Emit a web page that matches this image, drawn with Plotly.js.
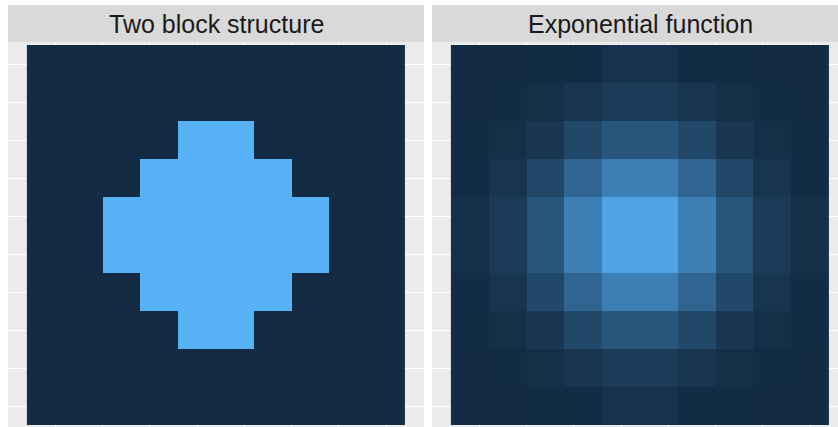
<!DOCTYPE html>
<html>
<head>
<meta charset="utf-8">
<script src="https://cdn.plot.ly/plotly-3.0.1.min.js"></script>
<style>
  html, body { margin: 0; padding: 0; background: #ffffff; }
  #chart { width: 838px; height: 427px; }
</style>
</head>
<body>
<div id="chart"></div>
<script>
// Facet titles
const panelTitles = ["Two block structure", "Exponential function"];

// Grid coordinates (columns and rows of the 10 x 10 matrices)
const cols = [1, 2, 3, 4, 5, 6, 7, 8, 9, 10];
const rows = [1, 2, 3, 4, 5, 6, 7, 8, 9, 10];

// Two block structure: 0/1 membership matrix (row 1 at the top)
const blockValues = [
  [0, 0, 0, 0, 0, 0, 0, 0, 0, 0],
  [0, 0, 0, 0, 0, 0, 0, 0, 0, 0],
  [0, 0, 0, 0, 1, 1, 0, 0, 0, 0],
  [0, 0, 0, 1, 1, 1, 1, 0, 0, 0],
  [0, 0, 1, 1, 1, 1, 1, 1, 0, 0],
  [0, 0, 1, 1, 1, 1, 1, 1, 0, 0],
  [0, 0, 0, 1, 1, 1, 1, 0, 0, 0],
  [0, 0, 0, 0, 1, 1, 0, 0, 0, 0],
  [0, 0, 0, 0, 0, 0, 0, 0, 0, 0],
  [0, 0, 0, 0, 0, 0, 0, 0, 0, 0]
];

// Exponential function: smooth decay away from the centre
const expValues = [
  [0.00, 0.00, 0.01, 0.01, 0.06, 0.06, 0.01, 0.01, 0.00, 0.00],
  [0.00, 0.01, 0.03, 0.08, 0.13, 0.13, 0.08, 0.03, 0.01, 0.00],
  [0.01, 0.03, 0.10, 0.23, 0.34, 0.34, 0.23, 0.10, 0.03, 0.01],
  [0.01, 0.08, 0.23, 0.46, 0.65, 0.65, 0.46, 0.23, 0.08, 0.01],
  [0.04, 0.13, 0.34, 0.65, 0.91, 0.91, 0.65, 0.34, 0.13, 0.04],
  [0.04, 0.13, 0.34, 0.65, 0.91, 0.91, 0.65, 0.34, 0.13, 0.04],
  [0.01, 0.08, 0.23, 0.46, 0.65, 0.65, 0.46, 0.23, 0.08, 0.01],
  [0.01, 0.03, 0.10, 0.23, 0.34, 0.34, 0.23, 0.10, 0.03, 0.01],
  [0.00, 0.01, 0.03, 0.08, 0.13, 0.13, 0.08, 0.03, 0.01, 0.00],
  [0.00, 0.00, 0.01, 0.01, 0.06, 0.06, 0.01, 0.01, 0.00, 0.00]
];

// ---- colour ramp: interpolate low -> high in CIELAB ----
const LOW = "#132B43", HIGH = "#56B1F7";

function hexToRgb(h) {
  return [1, 3, 5].map(i => parseInt(h.substr(i, 2), 16) / 255);
}
function toLin(c) { return c <= 0.04045 ? c / 12.92 : Math.pow((c + 0.055) / 1.055, 2.4); }
function fromLin(c) { return c <= 0.0031308 ? 12.92 * c : 1.055 * Math.pow(c, 1 / 2.4) - 0.055; }
const WX = 0.95047, WY = 1.0, WZ = 1.08883;
function fLab(t) { return t > 216 / 24389 ? Math.cbrt(t) : (24389 / 27 * t + 16) / 116; }
function fInv(t) { const t3 = t * t * t; return t3 > 216 / 24389 ? t3 : (116 * t - 16) / (24389 / 27); }
function rgbToLab(rgb) {
  const [r, g, b] = rgb.map(toLin);
  const X = 0.4124 * r + 0.3576 * g + 0.1805 * b;
  const Y = 0.2126 * r + 0.7152 * g + 0.0722 * b;
  const Z = 0.0193 * r + 0.1192 * g + 0.9505 * b;
  const fx = fLab(X / WX), fy = fLab(Y / WY), fz = fLab(Z / WZ);
  return [116 * fy - 16, 500 * (fx - fy), 200 * (fy - fz)];
}
function labToHex(lab) {
  const fy = (lab[0] + 16) / 116, fx = fy + lab[1] / 500, fz = fy - lab[2] / 200;
  const X = fInv(fx) * WX, Y = fInv(fy) * WY, Z = fInv(fz) * WZ;
  const r = 3.2406 * X - 1.5372 * Y - 0.4986 * Z;
  const g = -0.9689 * X + 1.8758 * Y + 0.0415 * Z;
  const b = 0.0557 * X - 0.2040 * Y + 1.0570 * Z;
  return "#" + [r, g, b].map(c => {
    const v = Math.round(Math.min(1, Math.max(0, fromLin(c))) * 255);
    return v.toString(16).padStart(2, "0");
  }).join("");
}
const labLow = rgbToLab(hexToRgb(LOW)), labHigh = rgbToLab(hexToRgb(HIGH));
const colorscale = [];
for (let i = 0; i <= 40; i++) {
  const t = i / 40;
  const lab = labLow.map((v, k) => v + (labHigh[k] - v) * t);
  colorscale.push([t, labToHex(lab)]);
}

// ---- figure geometry (pixels) ----
const W = 838, H = 427;
const stripTop = 5, stripBottom = 42;
const leftPanel = [8, 424], rightPanel = [432, 848];
const unitPx = (leftPanel[1] - leftPanel[0]) / 11;

const xGrid = [1.25, 2.5, 3.75, 5, 6.25, 7.5, 8.75, 10];

function heat(z, xa, ya) {
  return {
    type: "heatmap", z: z, x: cols, y: rows,
    xaxis: xa, yaxis: ya,
    colorscale: colorscale, zmin: 0, zmax: 1,
    showscale: false, hoverinfo: "skip"
  };
}

function xAxis(domain, range) {
  return {
    domain: domain, range: range, fixedrange: true,
    showgrid: true, gridcolor: "#FFFFFF", gridwidth: 1,
    tickmode: "array", tickvals: xGrid, showticklabels: false,
    ticks: "", zeroline: false, showline: false
  };
}
function yAxis(anchor) {
  return {
    anchor: anchor,
    domain: [0, (H - stripBottom) / H],
    range: [10.5 + 2 / 38, 0.5 - 3 / 38],
    fixedrange: true,
    showgrid: true, gridcolor: "#FFFFFF", gridwidth: 1,
    tickmode: "array", tickvals: rows, showticklabels: false,
    ticks: "", zeroline: false, showline: false
  };
}

const rightVisible = (W - rightPanel[0]) / unitPx;

const layout = {
  width: W, height: H,
  margin: { l: 0, r: 0, t: 0, b: 0 },
  paper_bgcolor: "#FFFFFF",
  plot_bgcolor: "#EBEBEB",
  showlegend: false,
  xaxis: xAxis([leftPanel[0] / W, leftPanel[1] / W], [0, 11]),
  yaxis: yAxis("x"),
  xaxis2: xAxis([rightPanel[0] / W, 1], [0, rightVisible]),
  yaxis2: yAxis("x2"),
  shapes: [leftPanel, rightPanel].map(p => ({
    type: "rect", xref: "paper", yref: "paper", layer: "below",
    x0: p[0] / W, x1: Math.min(1, p[1] / W),
    y0: 1 - stripBottom / H, y1: 1 - stripTop / H,
    fillcolor: "#D9D9D9", line: { width: 0 }
  })),
  annotations: [leftPanel, rightPanel].map((p, i) => ({
    xref: "paper", yref: "paper",
    x: (p[0] + p[1]) / 2 / W, y: 1 - 24 / H,
    xanchor: "center", yanchor: "middle",
    text: panelTitles[i], showarrow: false,
    font: { family: "Liberation Sans, Arial, sans-serif", size: 25, color: "#1A1A1A" }
  }))
};

Plotly.newPlot("chart", [heat(blockValues, "x", "y"), heat(expValues, "x2", "y2")], layout,
  { staticPlot: true, displayModeBar: false });
</script>
</body>
</html>
